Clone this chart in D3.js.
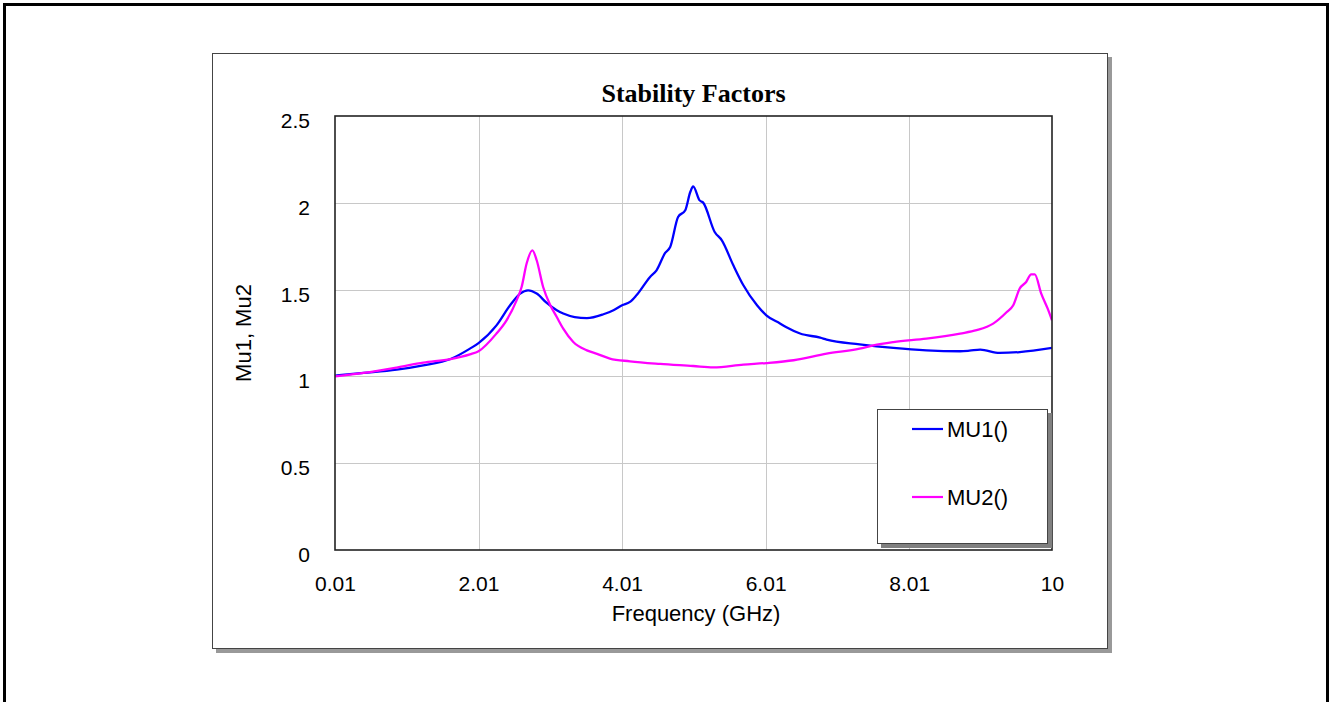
<!DOCTYPE html>
<html>
<head>
<meta charset="utf-8">
<script src="https://cdn.jsdelivr.net/npm/d3@7"></script>
<style>
    html, body { margin: 0; padding: 0; background: #fff; }
    svg { display: block; }
    text { font-family: 'Liberation Sans', Arial, sans-serif; fill: #000; }
</style>
</head>
<body>
<svg id="chart" width="1330" height="702"></svg>
<script>
// values (GHz / stability factor)
let mu1Freq = [0.01, 0.41, 0.87, 1.24, 1.62, 1.89, 2.01, 2.26, 2.45, 2.59, 2.70, 2.82, 2.96, 3.10, 3.19, 3.35, 3.52,
    3.75, 3.89, 4.01, 4.12, 4.21, 4.40, 4.49, 4.61, 4.68, 4.79, 4.89, 4.96, 5.00, 5.09, 5.14, 5.30, 5.40,
    5.56, 5.70, 5.89, 6.02, 6.21, 6.30, 6.49, 6.77, 6.86, 7.32, 7.79, 8.25, 8.72, 8.85, 9.00, 9.27, 9.55, 10.0];
let mu1Vals = [1.005, 1.02, 1.039, 1.064, 1.10, 1.16, 1.192, 1.294, 1.41, 1.477, 1.496, 1.477, 1.423, 1.381, 1.362, 1.342, 1.336,
    1.358, 1.381, 1.41, 1.429, 1.467, 1.573, 1.611, 1.711, 1.745, 1.918, 1.957, 2.062, 2.095, 2.014, 2.001, 1.832, 1.784,
    1.64, 1.525, 1.41, 1.352, 1.305, 1.283, 1.247, 1.223, 1.212, 1.185, 1.164, 1.15, 1.145, 1.148, 1.154, 1.135, 1.14, 1.164];

let mu2Freq = [0.01, 0.41, 0.87, 1.24, 1.62, 1.89, 2.01, 2.26, 2.40, 2.54, 2.61, 2.68, 2.76, 2.82, 2.91, 3.01, 3.10, 3.19, 3.33,
    3.52, 3.66, 3.84, 4.12, 4.54, 5.00, 5.28, 5.70, 6.02, 6.40, 6.86, 7.32, 7.51, 7.79, 8.25, 8.72, 8.95, 9.18,
    9.37, 9.46, 9.55, 9.64, 9.71, 9.76, 9.85, 9.94, 10.0];
let mu2Vals = [1.0, 1.02, 1.051, 1.079, 1.10, 1.127, 1.145, 1.247, 1.323, 1.438, 1.515, 1.65, 1.726, 1.669, 1.515, 1.41, 1.342, 1.275, 1.198,
    1.15, 1.13, 1.103, 1.087, 1.072, 1.06, 1.052, 1.068, 1.077, 1.093, 1.131, 1.16, 1.179, 1.198, 1.218, 1.247, 1.266, 1.304,
    1.371, 1.41, 1.506, 1.544, 1.588, 1.588, 1.477, 1.39, 1.323];

let xTicks = [0.01, 2.01, 4.01, 6.01, 8.01, 10];
let yTicks = [0, 0.5, 1, 1.5, 2, 2.5];
let seriesNames = ['MU1()', 'MU2()'];
let colors = ['#0000ff', '#ff00ff'];

function drawChart() {
    const svg = d3.select('#chart');
    const plot = { left: 335, right: 1052, top: 116, bottom: 550 };

    // outer frame
    svg.append('rect')
        .attr('x', 4.5).attr('y', 4.5)
        .attr('width', 1323).attr('height', 720)
        .attr('fill', 'none').attr('stroke', '#000').attr('stroke-width', 3);

    // panel with shadow
    svg.append('rect')
        .attr('x', 216).attr('y', 57).attr('width', 896).attr('height', 596)
        .attr('fill', '#999');
    svg.append('rect')
        .attr('x', 212.5).attr('y', 53.5).attr('width', 895).attr('height', 595)
        .attr('fill', '#fff').attr('stroke', '#444').attr('stroke-width', 1);

    const x = d3.scaleLinear().domain([0.01, 10]).range([plot.left, plot.right]);
    const y = d3.scaleLinear().domain([0, 2.5]).range([plot.bottom, plot.top]);

    // grid
    const grid = svg.append('g').attr('class', 'grid');
    grid.selectAll('line.gx')
        .data(xTicks.slice(1, -1))
        .enter()
        .append('line')
        .attr('x1', (d) => Math.round(x(d)) + 0.5).attr('x2', (d) => Math.round(x(d)) + 0.5)
        .attr('y1', plot.top).attr('y2', plot.bottom)
        .attr('stroke', '#c8c8c8').attr('stroke-width', 1);
    grid.selectAll('line.gy')
        .data(yTicks.slice(1, -1))
        .enter()
        .append('line')
        .attr('y1', (d) => Math.round(y(d)) + 0.5).attr('y2', (d) => Math.round(y(d)) + 0.5)
        .attr('x1', plot.left).attr('x2', plot.right)
        .attr('stroke', '#c8c8c8').attr('stroke-width', 1);

    // axes: labels only, the frame is drawn below
    const xAxis = svg.append('g')
        .attr('transform', `translate(0, ${plot.bottom})`)
        .call(d3.axisBottom(x).tickValues(xTicks).tickSize(0).tickPadding(0).tickFormat((d) => d === 10 ? '10' : d3.format('.2f')(d)));
    xAxis.select('.domain').remove();
    xAxis.selectAll('text')
        .attr('y', 41).attr('dy', 0)
        .style('font-size', '21px');

    const yAxis = svg.append('g')
        .attr('transform', `translate(${plot.left}, 0)`)
        .call(d3.axisLeft(y).tickValues(yTicks).tickSize(0).tickPadding(0).tickFormat((d) => String(d)));
    yAxis.select('.domain').remove();
    yAxis.selectAll('text')
        .attr('x', -25).attr('dy', '0.55em')
        .style('font-size', '21px');

    // curves
    let line = d3.line()
        .curve(d3.curveMonotoneX)
        .x((d) => x(d[0]))
        .y((d) => y(d[1]));
    let seriesData = [
        mu1Freq.map((f, i) => [f, mu1Vals[i]]),
        mu2Freq.map((f, i) => [f, mu2Vals[i]]),
    ];
    svg.append('defs').append('clipPath').attr('id', 'clip')
        .append('rect')
        .attr('x', plot.left).attr('y', plot.top)
        .attr('width', plot.right - plot.left).attr('height', plot.bottom - plot.top);
    svg.append('g')
        .attr('clip-path', 'url(#clip)')
        .selectAll('path')
        .data(seriesData)
        .enter()
        .append('path')
        .attr('d', line)
        .attr('fill', 'none')
        .attr('stroke', (d, i) => colors[i])
        .attr('stroke-width', 2.3)
        .attr('stroke-linejoin', 'round');

    // plot frame
    svg.append('rect')
        .attr('x', plot.left).attr('y', plot.top)
        .attr('width', plot.right - plot.left).attr('height', plot.bottom - plot.top)
        .attr('fill', 'none').attr('stroke', '#222').attr('stroke-width', 1.6);

    // title and axis titles
    svg.append('text')
        .attr('x', (plot.left + plot.right) / 2).attr('y', 102)
        .attr('text-anchor', 'middle')
        .style('font-family', "'Liberation Serif', 'Times New Roman', serif")
        .style('font-weight', 'bold')
        .style('font-size', '26px')
        .text('Stability Factors');
    svg.append('text')
        .attr('x', 696).attr('y', 621)
        .attr('text-anchor', 'middle')
        .style('font-size', '22px')
        .text('Frequency (GHz)');
    svg.append('text')
        .attr('transform', 'translate(251, 333) rotate(-90)')
        .attr('text-anchor', 'middle')
        .style('font-size', '22px')
        .text('Mu1, Mu2');

    // legend
    const lg = svg.append('g').attr('class', 'legend');
    lg.append('rect')
        .attr('x', 881).attr('y', 413).attr('width', 171).attr('height', 135)
        .attr('fill', '#808080');
    lg.append('rect')
        .attr('x', 877.5).attr('y', 409.5).attr('width', 170).attr('height', 134)
        .attr('fill', '#fff').attr('stroke', '#444').attr('stroke-width', 1);
    let items = lg.selectAll('g.item')
        .data(seriesNames)
        .enter()
        .append('g')
        .attr('transform', (d, i) => `translate(0, ${429 + i * 68})`);
    items.append('line')
        .attr('x1', 912).attr('x2', 943)
        .attr('stroke', (d, i) => colors[i]).attr('stroke-width', 2.2);
    items.append('text')
        .attr('x', 947).attr('dy', '0.36em')
        .style('font-size', '22px')
        .text((d) => d);
}

drawChart();
</script>
</body>
</html>
